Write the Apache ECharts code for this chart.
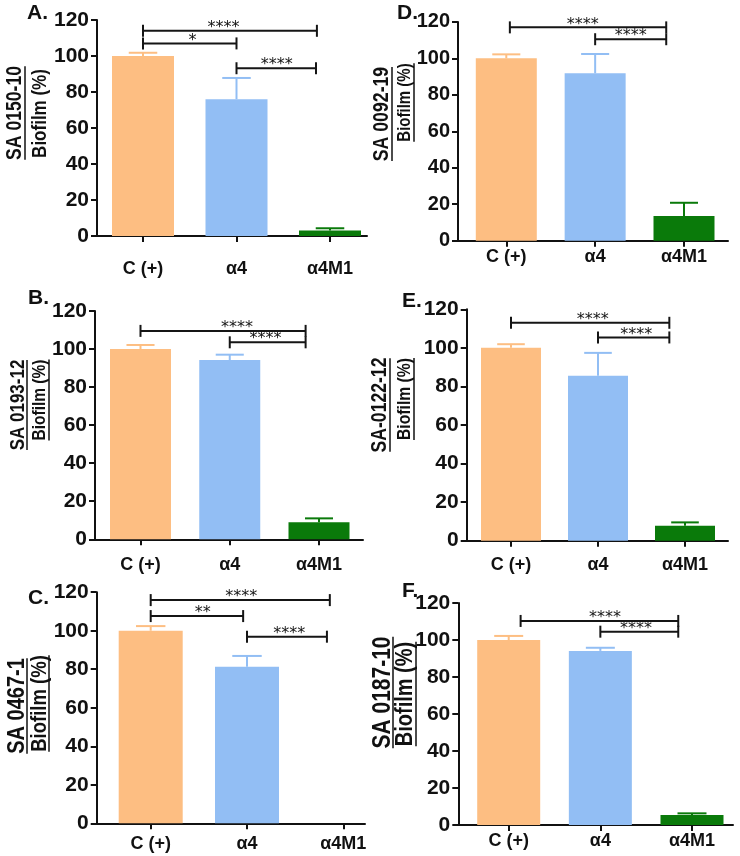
<!DOCTYPE html>
<html>
<head>
<meta charset="utf-8">
<script src="https://cdn.jsdelivr.net/npm/echarts@6/dist/echarts.min.js"></script>
<style>
html,body{margin:0;padding:0;background:#fff;}
#chart{width:740px;height:856px;}
</style>
</head>
<body>
<div id="chart"></div>
<script>
// ---------- DATA ----------
const categories = ['C (+)', 'α4', 'α4M1'];
const yTickMin = 0, yTickMax = 120, yTickStep = 20;

const panelLetters = ['A.', 'B.', 'C.', 'D.', 'E.', 'F.'];
const strainLabels = ['SA 0150-10', 'SA 0193-12', 'SA 0467-1', 'SA 0092-19', 'SA-0122-12', 'SA 0187-10'];
const yTitle = 'Biofilm (%)';

// mean biofilm (%) per category
const meanA = [100, 76, 3];
const meanB = [100, 94.2, 8.9];
const meanC = [100, 81.3, 0];
const meanD = [100, 91.8, 13.5];
const meanE = [100, 85.5, 7.8];
const meanF = [100, 94.1, 5.4];
// error (SD) per category
const sdA = [1.8, 11.8, 1.3];
const sdB = [2.1, 2.8, 2.1];
const sdC = [2.4, 5.6, 0];
const sdD = [2.2, 10.6, 7.3];
const sdE = [1.9, 11.9, 1.7];
const sdF = [2.2, 1.7, 0.9];

// significance brackets: [from (category pos), to (category pos), y value, star position]
const sigA = [[0, 1.86, 114, 0.86], [0, 1.0, 107, 0.53], [1.0, 1.85, 93.2, 1.43]];
const sigB = [[0, 1.85, 109.5, 1.08], [1.0, 1.85, 103.5, 1.40]];
const sigC = [[0, 1.86, 115.9, 0.94], [0, 0.96, 107.6, 0.54], [1.0, 1.83, 96.9, 1.44]];
const sigD = [[0.04, 1.80, 117, 0.86], [1.0, 1.80, 110.5, 1.40]];
const sigE = [[0, 1.82, 113, 0.94], [1.0, 1.82, 105.4, 1.44]];
const sigF = [[0.13, 1.85, 110.3, 1.05], [1.0, 1.85, 104.5, 1.39]];
const sigTextA = ['****', '*', '****'];
const sigTextB = ['****', '****'];
const sigTextC = ['****', '**', '****'];
const sigTextD = ['****', '****'];
const sigTextE = ['****', '****'];
const sigTextF = ['****', '****'];

// ---------- STYLE / LAYOUT ----------
const barColors = ['#FDBE82', '#92BEF4', '#0A7A0A'];
// axisX, first category center, last category center, axis right end, y(120), y(0), barWidth, label margin
const layout = [
  {ax: 97,    c0: 143,   c2: 330,   right: 367, yTop: 20,    yBot: 236,   bw: 62, lm: 24, tick: 21},
  {ax: 95,    c0: 140.5, c2: 319,   right: 363, yTop: 310.9, yBot: 539.3, bw: 61, lm: 17, tick: 21},
  {ax: 96.7,  c0: 150.7, c2: 343.3, right: 365, yTop: 592.2, yBot: 823.3, bw: 64, lm: 12, tick: 21},
  {ax: 458,   c0: 506.3, c2: 684,   right: 728, yTop: 21.9,  yBot: 240.7, bw: 61, lm: 7,  tick: 20},
  {ax: 466.7, c0: 511,   c2: 685,   right: 728, yTop: 309.3, yBot: 540.7, bw: 60, lm: 15, tick: 21},
  {ax: 458.3, c0: 508.7, c2: 692,   right: 733, yTop: 603,   yBot: 825,   bw: 63, lm: 7,  tick: 21}
];
// rotated y titles: [line1 cx, line1 cy, line1 size, underline1 x, line2 cx, line2 cy, line2 size, underline2 x (or null)]
const titleLayout = [
  [15, 113, 17.6, 25, 40, 113.5, 17, null],
  [18.5, 405, 17, 27, 39.5, 400, 15.5, 49],
  [17.5, 706, 20, 27, 40, 703.5, 18.5, 49],
  [382.5, 114, 17.7, 392, 404.5, 102.5, 15, 414],
  [380, 405, 17.6, 390, 404.5, 399, 15.7, 414],
  [382.5, 692.5, 21, 393, 405.5, 694, 20, 416]
];
const letterPos = [[27, 3], [28, 288], [28, 588], [397, 3], [402, 291], [402, 581]];

const means = [meanA, meanB, meanC, meanD, meanE, meanF];
const sds = [sdA, sdB, sdC, sdD, sdE, sdF];
const sigs = [sigA, sigB, sigC, sigD, sigE, sigF];
const sigTexts = [sigTextA, sigTextB, sigTextC, sigTextD, sigTextE, sigTextF];

const FONT = '"Liberation Sans", Arial, sans-serif';
const grids = [], xAxes = [], yAxes = [], series = [], graphics = [];

layout.forEach((L, p) => {
  const sp = (L.c2 - L.c0) / 2;
  const xmin = -(L.c0 - L.ax) / sp;
  const xmax = 2 + (L.right - L.c2) / sp;
  grids.push({left: L.ax, top: L.yTop, width: L.right - L.ax, height: L.yBot - L.yTop, containLabel: false});
  xAxes.push({
    type: 'value', gridIndex: p, min: xmin, max: xmax,
    splitLine: {show: false},
    axisLine: {show: true, onZero: false, lineStyle: {color: '#111', width: 2}},
    axisTick: {show: true, customValues: [0, 1, 2], length: 6, lineStyle: {color: '#111', width: 2}},
    axisLabel: {show: true, customValues: [0, 1, 2], margin: L.lm, color: '#111',
      fontFamily: FONT, fontWeight: 'bold', fontSize: 18,
      formatter: v => categories[Math.round(v)]}
  });
  yAxes.push({
    type: 'value', gridIndex: p, min: yTickMin, max: yTickMax, interval: yTickStep,
    splitLine: {show: false},
    axisLine: {show: true, onZero: false, lineStyle: {color: '#111', width: 2}},
    axisTick: {show: true, length: 6, lineStyle: {color: '#111', width: 2}},
    axisLabel: {margin: 8, color: '#111', fontFamily: FONT, fontWeight: 'bold', fontSize: L.tick}
  });
  const m = means[p], s = sds[p];
  series.push({
    type: 'bar', xAxisIndex: p, yAxisIndex: p, barWidth: L.bw, silent: true,
    data: m.map((v, i) => ({value: [i, v], itemStyle: {color: barColors[i]}})),
    z: 2
  });
  series.push({
    type: 'custom', xAxisIndex: p, yAxisIndex: p, silent: true, z: 3,
    data: m.map((v, i) => [i, v, s[i]]),
    renderItem: (params, api) => {
      const i = api.value(0), v = api.value(1), e = api.value(2);
      if (!e) return;
      const p0 = api.coord([i, v]);
      const p1 = api.coord([i, v + e]);
      const half = L.bw * 0.23;
      const col = barColors[params.dataIndex];
      return {type: 'group', children: [
        {type: 'line', shape: {x1: p0[0], y1: p0[1], x2: p1[0], y2: p1[1]}, style: {stroke: col, lineWidth: 2}},
        {type: 'line', shape: {x1: p1[0] - half, y1: p1[1], x2: p1[0] + half, y2: p1[1]}, style: {stroke: col, lineWidth: 2}}
      ]};
    }
  });
  const sg = sigs[p], st = sigTexts[p];
  series.push({
    type: 'custom', xAxisIndex: p, yAxisIndex: p, silent: true, z: 4, clip: false,
    data: sg.map(r => [r[0], r[1], r[2], r[3]]),
    renderItem: (params, api) => {
      const a = api.coord([api.value(0), api.value(2)]);
      const b = api.coord([api.value(1), api.value(2)]);
      const t = api.coord([api.value(3), api.value(2)]);
      const cap = 6;
      const ls = {stroke: '#151515', lineWidth: 2};
      return {type: 'group', children: [
        {type: 'line', shape: {x1: a[0], y1: a[1], x2: b[0], y2: b[1]}, style: ls},
        {type: 'line', shape: {x1: a[0], y1: a[1] - cap, x2: a[0], y2: a[1] + cap}, style: ls},
        {type: 'line', shape: {x1: b[0], y1: b[1] - cap, x2: b[0], y2: b[1] + cap}, style: ls},
        {type: 'text', x: t[0], y: a[1] - 3, style: {text: st[params.dataIndex], fill: '#151515',
          font: '16px "DejaVu Sans", sans-serif', align: 'center', verticalAlign: 'middle'}}
      ]};
    }
  });

  // panel letter
  graphics.push({type: 'text', left: letterPos[p][0], top: letterPos[p][1],
    style: {text: panelLetters[p], fill: '#111', font: 'bold 21px ' + FONT}});
  // rotated y titles (glyphs slightly stretched like the source figure)
  const T = titleLayout[p];
  graphics.push({type: 'text', x: T[0], y: T[1], rotation: Math.PI / 2, scaleY: 1.22,
    style: {text: strainLabels[p], fill: '#111', font: 'bold ' + T[2] + 'px ' + FONT, align: 'center', verticalAlign: 'middle'}});
  graphics.push({type: 'text', x: T[4], y: T[5], rotation: Math.PI / 2, scaleY: 1.22,
    style: {text: yTitle, fill: '#111', font: 'bold ' + T[6] + 'px ' + FONT, align: 'center', verticalAlign: 'middle'}});
  const len1 = strainLabels[p].length * 0.53 * T[2];
  graphics.push({type: 'line', shape: {x1: T[3], y1: T[1] - len1 / 2, x2: T[3], y2: T[1] + len1 / 2},
    style: {stroke: '#111', lineWidth: 1.5}});
  if (T[7] !== null) {
    const len2 = 5.22 * T[6];
    graphics.push({type: 'line', shape: {x1: T[7], y1: T[5] - len2 / 2, x2: T[7], y2: T[5] + len2 / 2},
      style: {stroke: '#111', lineWidth: 1.5}});
  }
});

const chart = echarts.init(document.getElementById('chart'), null, {renderer: 'canvas'});
chart.setOption({
  animation: false,
  backgroundColor: '#fff',
  grid: grids, xAxis: xAxes, yAxis: yAxes, series: series, graphic: graphics
});
</script>
</body>
</html>
